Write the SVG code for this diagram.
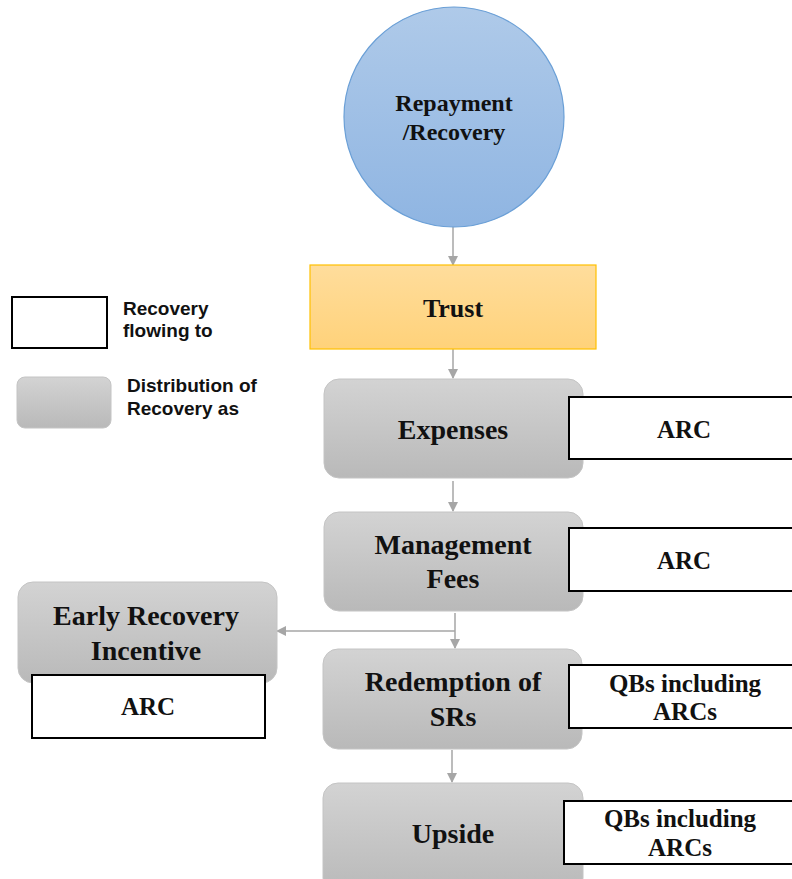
<svg xmlns="http://www.w3.org/2000/svg" width="792" height="879" viewBox="0 0 792 879">
<defs>
<linearGradient id="gBlue" x1="0" y1="0" x2="0" y2="1"><stop offset="0" stop-color="#afcae9"/><stop offset="1" stop-color="#8fb5e2"/></linearGradient>
<linearGradient id="gGold" x1="0" y1="0" x2="0" y2="1"><stop offset="0" stop-color="#ffdd9c"/><stop offset="1" stop-color="#ffd27a"/></linearGradient>
<linearGradient id="gGray" x1="0" y1="0" x2="0" y2="1"><stop offset="0" stop-color="#d3d3d3"/><stop offset="1" stop-color="#b9b9b9"/></linearGradient>
<marker id="arr" markerWidth="10" markerHeight="10" refX="9" refY="5" orient="auto" markerUnits="userSpaceOnUse"><path d="M0,0 L10,5 L0,10 Z" fill="#a6a6a6"/></marker>
<style>
.gray{fill:url(#gGray);stroke:#c4c4c4;stroke-width:1}
.box{fill:#fff;stroke:#000;stroke-width:2}
.t{font-family:"Liberation Serif","Times New Roman",serif;font-weight:bold;fill:#111;text-anchor:middle}
.n{font-size:28px}
.b{font-size:25px}
.lg{font-family:"Liberation Sans",Arial,sans-serif;font-weight:bold;font-size:19px;fill:#111}
.c{stroke:#a6a6a6;stroke-width:1.5;fill:none}
</style>
</defs>
<g id="connectors">
<line class="c" x1="453" y1="221" x2="453" y2="265" marker-end="url(#arr)"/>
<line class="c" x1="453" y1="349" x2="453" y2="378" marker-end="url(#arr)"/>
<line class="c" x1="453" y1="481" x2="453" y2="511" marker-end="url(#arr)"/>
<line class="c" x1="455" y1="613" x2="455" y2="648" marker-end="url(#arr)"/>
<polyline class="c" points="455,631 277,631" marker-end="url(#arr)"/>
<line class="c" x1="452" y1="750" x2="452" y2="782" marker-end="url(#arr)"/>
</g>
<g id="repayment">
<circle cx="454" cy="117" r="110" fill="url(#gBlue)" stroke="#6a9fd6" stroke-width="1.2"/>
<text class="t" x="454" y="111" font-size="24">Repayment</text>
<text class="t" x="454" y="140" font-size="24">/Recovery</text>
</g>
<g id="trust">
<rect x="310" y="265" width="286" height="84" fill="url(#gGold)" stroke="#ffc000" stroke-width="1.2"/>
<text class="t" x="453" y="317" font-size="26">Trust</text>
</g>
<g id="legend-white">
<rect class="box" x="12" y="297" width="95" height="51"/>
<text class="lg" x="123" y="315">Recovery</text>
<text class="lg" x="123" y="337">flowing to</text>
</g>
<g id="legend-gray">
<rect class="gray" x="17" y="377" width="94" height="51" rx="8"/>
<text class="lg" x="127" y="392">Distribution of</text>
<text class="lg" x="127" y="415">Recovery as</text>
</g>
<g id="expenses">
<rect class="gray" x="324" y="379" width="259" height="99" rx="15"/>
<text class="t n" x="453" y="439">Expenses</text>
</g>
<g id="arc1">
<rect class="box" x="569" y="397" width="224" height="62"/>
<text class="t b" x="684" y="438">ARC</text>
</g>
<g id="management">
<rect class="gray" x="324" y="512" width="259" height="99" rx="15"/>
<text class="t n" x="453" y="554">Management</text>
<text class="t n" x="453" y="588">Fees</text>
</g>
<g id="arc2">
<rect class="box" x="569" y="528" width="224" height="63"/>
<text class="t b" x="684" y="569">ARC</text>
</g>
<g id="early">
<rect class="gray" x="18" y="582" width="259" height="101" rx="15"/>
<text class="t n" x="146" y="625">Early Recovery</text>
<text class="t n" x="146" y="660">Incentive</text>
</g>
<g id="arc3">
<rect class="box" x="32" y="675" width="233" height="63"/>
<text class="t b" x="148" y="715">ARC</text>
</g>
<g id="redemption">
<rect class="gray" x="323" y="649" width="259" height="100" rx="15"/>
<text class="t n" x="453" y="691">Redemption of</text>
<text class="t n" x="453" y="726">SRs</text>
</g>
<g id="qbs1">
<rect class="box" x="569" y="665" width="224" height="63"/>
<text class="t b" x="685" y="692">QBs including</text>
<text class="t b" x="685" y="720">ARCs</text>
</g>
<g id="upside">
<rect class="gray" x="323" y="783" width="260" height="110" rx="15"/>
<text class="t n" x="453" y="843">Upside</text>
</g>
<g id="qbs2">
<rect class="box" x="564" y="801" width="229" height="63"/>
<text class="t b" x="680" y="827">QBs including</text>
<text class="t b" x="680" y="856">ARCs</text>
</g>
</svg>
